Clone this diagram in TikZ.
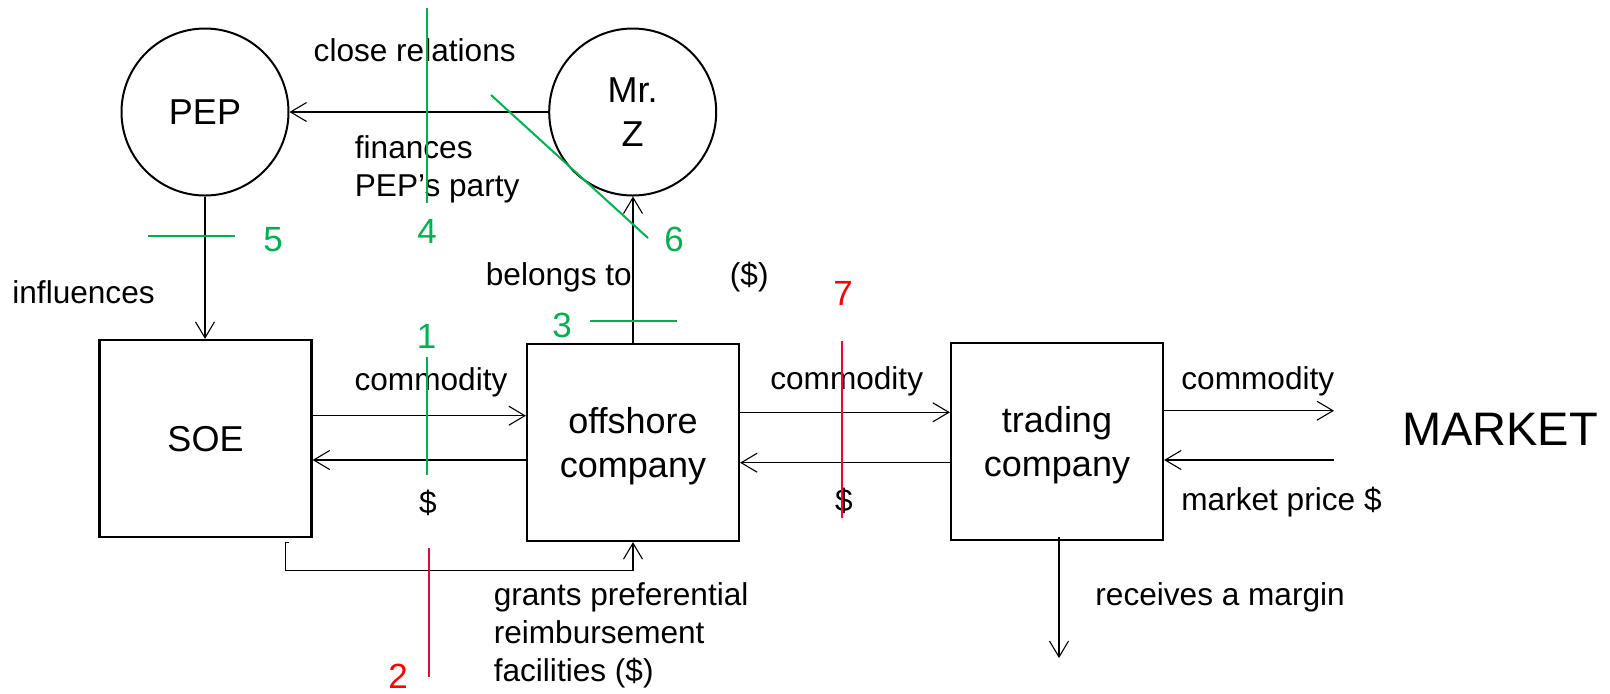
\documentclass[tikz,border=0pt]{standalone}
\usepackage{fontspec}
\setmainfont{Liberation Sans}
\usetikzlibrary{arrows.meta}

\definecolor{markgreen}{RGB}{0,176,80}
\definecolor{markline}{RGB}{235,0,55}
\definecolor{markred}{RGB}{255,0,0}

\tikzset{
  party/.style={circle, draw, line width=1pt, minimum size=83.5pt, inner sep=0pt,
    align=center, font=\fontsize{18}{22.2}\selectfont},
  firm/.style={rectangle, draw, line width=1.1pt, minimum width=106pt, minimum height=98.5pt,
    inner sep=0pt, align=center, text depth=0pt, font=\fontsize{18}{22.2}\selectfont},
  arr/.style={-{Straight Barb[length=8pt,width=9.5pt]}, line width=0.55pt},
  lbl/.style={inner sep=0pt, font=\fontsize{15.8}{19.1}\selectfont},
  numg/.style={inner sep=0pt, anchor=base, text=markgreen, font=\fontsize{17.5}{20}\selectfont},
  numr/.style={inner sep=0pt, anchor=base, text=markred, font=\fontsize{17.5}{20}\selectfont},
  gline/.style={draw=markgreen, line width=1pt},
  rline/.style={draw=markline, line width=1.1pt},
}

\begin{document}
\begin{tikzpicture}[x=0.5pt, y=-0.5pt]
  \fill[white] (0,0) rectangle (1610,693);
  \useasboundingbox (0,0) rectangle (1610,693);

  % actors
  \node[party] (PEP) at (205,112) {PEP};
  \node[party] (MrZ) at (632.7,112) {Mr.\\Z};

  % companies
  \node[firm] (SOE)  at (205.5,438.5) {SOE};
  \node[firm] (off)  at (633,442.5)   {offshore\\company};
  \node[firm] (trad) at (1057,441.5)  {trading\\company};

  % market side
  \node[lbl, anchor=base west, font=\fontsize{23.5}{28}\selectfont] (market) at (1401.7,445) {MARKET};
  \coordinate (mktin)  at (1334,410.7);
  \coordinate (mktout) at (1334,460);

  % relations between actors
  \draw[arr] (MrZ.west) -- (PEP.east);
  \draw[arr] (PEP.south) -- (PEP.south |- SOE.north);
  \draw[arr] (off.north) -- (off.north |- MrZ.south);

  % flows of goods and money
  \draw[arr] ([yshift=11.4pt]SOE.east) -- ([yshift=11.4pt]SOE.east -| off.west);
  \draw[arr] ([yshift=-8.75pt]off.west) -- ([yshift=-8.75pt]off.west -| SOE.east);
  \draw[arr] ([yshift=15.1pt]off.east) -- ([yshift=15.1pt]off.east -| trad.west);
  \draw[arr] ([yshift=-10.6pt]trad.west) -- ([yshift=-10.6pt]trad.west -| off.east);
  \draw[arr] (trad.east |- mktin) -- (mktin);
  \draw[arr] (mktout) -- (trad.east |- mktout);

  % preferential reimbursement from SOE to the offshore company
  \draw[arr] ([shift={(83,4)}]SOE.south) -- ++(-3,0) -- ++(0,28) -| (off.south);

  % margin leaving the trading company
  \draw[arr] ([shift={(2,-4)}]trad.south) -- ++(0,121);

  % labels
  \node[lbl, anchor=base] (lclose) at (414.7,61.7) {close relations};
  \node[lbl, anchor=north west, align=left] (lfin) at (354.5,135.3) {finances\\PEP’s party};
  \node[lbl, anchor=base west] (linfl) at (12,303.3) {influences};
  \node[lbl, anchor=base west] (lbel) at (485.5,285) {belongs to};
  \node[lbl, anchor=base west] (lbelusd) at (729.5,285) {(\$)};
  \node[lbl, anchor=base] (lcom1) at (431,390.7) {commodity};
  \node[lbl, anchor=base] (lusd1) at (428,513) {\$};
  \node[lbl, anchor=base] (lcom2) at (846.7,389.3) {commodity};
  \node[lbl, anchor=base] (lusd2) at (844,511.7) {\$};
  \node[lbl, anchor=base west] (lcom3) at (1181,389.3) {commodity};
  \node[lbl, anchor=base west] (lprice) at (1181,510.7) {market price \$};
  \node[lbl, anchor=base west] (lmargin) at (1095,605) {receives a margin};
  \node[lbl, anchor=north west, align=left] (lgrant) at (493.4,582)
    {grants preferential\\reimbursement\\facilities (\$)};

  % numbered markers
  \draw[gline] (427,8) -- (427,203);
  \node[numg] (n4) at (427,243.3) {4};
  \draw[gline] (491,95) -- (648,238);
  \node[numg] (n6) at (674,251.7) {6};
  \draw[gline] (148,236) -- (235,236);
  \node[numg] (n5) at (273,251.7) {5};
  \draw[gline] (590,321) -- (677,321);
  \node[numg] (n3) at (562,337.7) {3};
  \draw[gline] (426.5,357) -- (426.5,475);
  \node[numg] (n1) at (426.5,348.3) {1};
  \draw[rline] (429.3,548) -- (429.3,677);
  \node[numr] (n2) at (398,688) {2};
  \draw[rline] (842,341) -- (842,518);
  \node[numr] (n7) at (843,305) {7};
\end{tikzpicture}
\end{document}
